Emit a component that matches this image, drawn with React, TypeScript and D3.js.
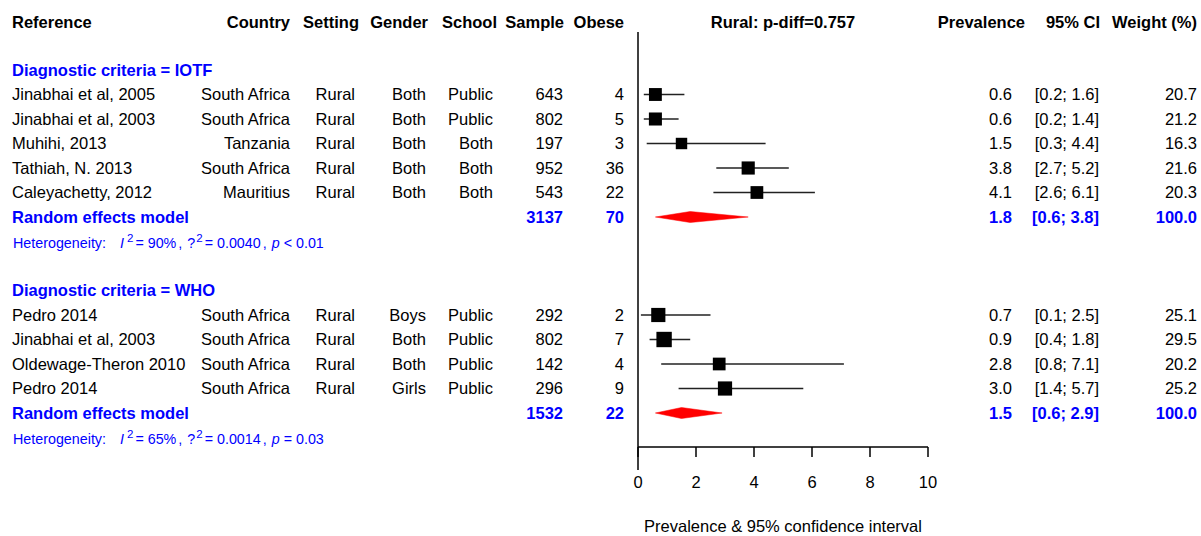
import React from "react";
import * as d3 from "d3";

// ---------- data ----------
const groupNames = ["IOTF", "WHO"];

const studyGroup = ["IOTF", "IOTF", "IOTF", "IOTF", "IOTF", "WHO", "WHO", "WHO", "WHO"];
const studyLabels = [
  "Jinabhai et al, 2005",
  "Jinabhai et al, 2003",
  "Muhihi, 2013",
  "Tathiah, N. 2013",
  "Caleyachetty, 2012",
  "Pedro 2014",
  "Jinabhai et al, 2003",
  "Oldewage-Theron 2010",
  "Pedro 2014",
];
const countries = ["South Africa", "South Africa", "Tanzania", "South Africa", "Mauritius", "South Africa", "South Africa", "South Africa", "South Africa"];
const settings = ["Rural", "Rural", "Rural", "Rural", "Rural", "Rural", "Rural", "Rural", "Rural"];
const genders = ["Both", "Both", "Both", "Both", "Both", "Boys", "Both", "Both", "Girls"];
const schools = ["Public", "Public", "Both", "Both", "Both", "Public", "Public", "Public", "Public"];
const samples = [643, 802, 197, 952, 543, 292, 802, 142, 296];
const obese = [4, 5, 3, 36, 22, 2, 7, 4, 9];
const prevalence = [0.6, 0.6, 1.5, 3.8, 4.1, 0.7, 0.9, 2.8, 3.0];
const ciLower = [0.2, 0.2, 0.3, 2.7, 2.6, 0.1, 0.4, 0.8, 1.4];
const ciUpper = [1.6, 1.4, 4.4, 5.2, 6.1, 2.5, 1.8, 7.1, 5.7];
const weights = [20.7, 21.2, 16.3, 21.6, 20.3, 25.1, 29.5, 20.2, 25.2];

const pooledSample = [3137, 1532];
const pooledObese = [70, 22];
const pooledPrev = [1.8, 1.5];
const pooledLower = [0.6, 0.6];
const pooledUpper = [3.8, 2.9];
const pooledWeight = [100.0, 100.0];

const hetI2 = ["90%", "65%"];
const hetTau2 = ["0.0040", "0.0014"];
const hetP = ["< 0.01", "= 0.03"];

const xTicks = [0, 2, 4, 6, 8, 10];
const headerLabels = ["Reference", "Country", "Setting", "Gender", "School", "Sample", "Obese"];
const rightHeaders = ["Prevalence", "95% CI", "Weight (%)"];
const plotTitle = "Rural: p-diff=0.757";
const axisTitle = "Prevalence & 95% confidence interval";

// ---------- layout ----------
const W = 1201;
const H = 536;
const FONT = "'Liberation Sans', Arial, Helvetica, sans-serif";
const FS = 16.5;
const BLUE = "#0000FF";

const x = d3.scaleLinear().domain([0, 10]).range([638, 928]);
const rowY = d3.scaleLinear().domain([0, 14]).range([70, 413]);
const sq = d3.scaleSqrt().domain([0, 30]).range([0, 15.5]);

const headerX = [12, 290, 359, 428, 497, 564, 624];
const colX = { country: 290, setting: 355, gender: 426, school: 493, sample: 563, obese: 624, prev: 1012, ci: 1099, weight: 1197 };
const rightHeaderX = [1025, 1100, 1197];

function fmt1(v: number) {
  return d3.format(".1f")(v);
}

export default function App() {
  type Row = { kind: string; idx: number; g: number; r: number };
  const rows: Row[] = [];
  let r = 0;
  groupNames.forEach((g, gi) => {
    rows.push({ kind: "group", idx: -1, g: gi, r: r++ });
    studyGroup.forEach((sg, si) => {
      if (sg === g) rows.push({ kind: "study", idx: si, g: gi, r: r++ });
    });
    rows.push({ kind: "pooled", idx: -1, g: gi, r: r++ });
    rows.push({ kind: "het", idx: -1, g: gi, r: r++ });
    r++; // blank
  });

  const axisY = 447;

  return (
    <svg
      width={W}
      height={H}
      style={{ position: "absolute", left: 0, top: 0, background: "#fff" }}
      fontFamily={FONT}
      fontSize={FS}
    >
      <rect x={0} y={0} width={W} height={H} fill="#fff" />
      {headerLabels.map((h, i) => (
        <text key={h} x={headerX[i]} y={22} dy="0.35em" fontWeight="bold" textAnchor={i === 0 ? "start" : "end"}>
          {h}
        </text>
      ))}
      <text x={x(5)} y={22} dy="0.35em" fontWeight="bold" textAnchor="middle">
        {plotTitle}
      </text>
      {rightHeaders.map((h, i) => (
        <text key={h} x={rightHeaderX[i]} y={22} dy="0.35em" fontWeight="bold" textAnchor="end">
          {h}
        </text>
      ))}

      <line x1={x(0)} x2={x(0)} y1={32} y2={470} stroke="#000" strokeWidth={1.5} />

      {rows.map((row) => {
        const y = rowY(row.r);
        if (row.kind === "group") {
          return (
            <text key={"g" + row.g} x={12} y={y} dy="0.35em" fill={BLUE} fontWeight="bold">
              {"Diagnostic criteria = " + groupNames[row.g]}
            </text>
          );
        }
        if (row.kind === "study") {
          const i = row.idx;
          const s = sq(weights[i]);
          return (
            <g key={"s" + i}>
              <text x={12} y={y} dy="0.35em">{studyLabels[i]}</text>
              <text x={colX.country} y={y} dy="0.35em" textAnchor="end">{countries[i]}</text>
              <text x={colX.setting} y={y} dy="0.35em" textAnchor="end">{settings[i]}</text>
              <text x={colX.gender} y={y} dy="0.35em" textAnchor="end">{genders[i]}</text>
              <text x={colX.school} y={y} dy="0.35em" textAnchor="end">{schools[i]}</text>
              <text x={colX.sample} y={y} dy="0.35em" textAnchor="end">{samples[i]}</text>
              <text x={colX.obese} y={y} dy="0.35em" textAnchor="end">{obese[i]}</text>
              <line x1={x(ciLower[i])} x2={x(ciUpper[i])} y1={y} y2={y} stroke="#222" strokeWidth={1.5} />
              <rect x={x(prevalence[i]) - s / 2} y={y - s / 2} width={s} height={s} fill="#000" />
              <text x={colX.prev} y={y} dy="0.35em" textAnchor="end">{fmt1(prevalence[i])}</text>
              <text x={colX.ci} y={y} dy="0.35em" textAnchor="end">{`[${fmt1(ciLower[i])}; ${fmt1(ciUpper[i])}]`}</text>
              <text x={colX.weight} y={y} dy="0.35em" textAnchor="end">{fmt1(weights[i])}</text>
            </g>
          );
        }
        if (row.kind === "pooled") {
          const g = row.g;
          const hh = 5.5;
          const path = d3.line()([
            [x(pooledLower[g]), y],
            [x(pooledPrev[g]), y - hh],
            [x(pooledUpper[g]), y],
            [x(pooledPrev[g]), y + hh],
          ]) + "Z";
          return (
            <g key={"p" + g} fill={BLUE} fontWeight="bold">
              <text x={12} y={y} dy="0.35em">Random effects model</text>
              <text x={colX.sample} y={y} dy="0.35em" textAnchor="end">{pooledSample[g]}</text>
              <text x={colX.obese} y={y} dy="0.35em" textAnchor="end">{pooledObese[g]}</text>
              <path d={path} fill="#FF0000" stroke="#FF0000" strokeWidth={0.5} />
              <text x={colX.prev} y={y} dy="0.35em" textAnchor="end">{fmt1(pooledPrev[g])}</text>
              <text x={colX.ci} y={y} dy="0.35em" textAnchor="end">{`[${fmt1(pooledLower[g])}; ${fmt1(pooledUpper[g])}]`}</text>
              <text x={colX.weight} y={y} dy="0.35em" textAnchor="end">{fmt1(pooledWeight[g])}</text>
            </g>
          );
        }
        if (row.kind === "het") {
          const g = row.g;
          const y2 = y + 1.5;
          return (
            <text key={"h" + g} x={13} y={y2} dy="0.35em" fill={BLUE} fontSize={14.3}>
              <tspan>Heterogeneity:</tspan>
              <tspan dx={14} fontStyle="italic">I</tspan>
              <tspan dx={3} dy={-6} fontSize={11.5}>2</tspan>
              <tspan dx={2} dy={6}>{"= " + hetI2[g]}</tspan>
              <tspan dx={2}>,</tspan>
              <tspan dx={5}>?</tspan>
              <tspan dx={1} dy={-6} fontSize={11.5}>2</tspan>
              <tspan dx={2} dy={6}>{"= " + hetTau2[g]}</tspan>
              <tspan dx={2}>,</tspan>
              <tspan dx={5} fontStyle="italic">p</tspan>
              <tspan dx={4}>{hetP[g]}</tspan>
            </text>
          );
        }
        return null;
      })}

      <line x1={x(0)} x2={x(10)} y1={axisY} y2={axisY} stroke="#000" strokeWidth={1.5} />
      {xTicks.map((t) => (
        <g key={t}>
          <line x1={x(t)} x2={x(t)} y1={axisY} y2={axisY + 10} stroke="#000" strokeWidth={1.5} />
          <text x={x(t)} y={482} dy="0.35em" textAnchor="middle">{t}</text>
        </g>
      ))}
      <text x={x(5)} y={526} dy="0.35em" textAnchor="middle">{axisTitle}</text>
    </svg>
  );
}
